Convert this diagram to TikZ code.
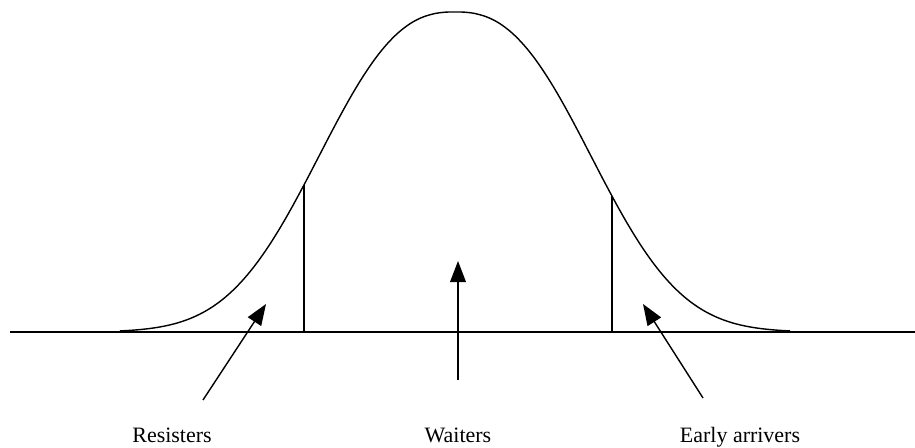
\documentclass[tikz,border=0pt]{standalone}
\usepackage{fontspec}
\setmainfont{Liberation Serif}
\usetikzlibrary{arrows.meta}
\newcommand{\bellh}[1]{332-320*exp(-(abs(#1-455)/167)^2.5)}% curve height at x=#1

\begin{document}
\begin{tikzpicture}[x=0.02cm,y=-0.02cm, line width=0.8pt,
  lbl/.style={font=\fontsize{12.5}{14}\selectfont, anchor=base},
  pointer/.style={-{Triangle[length=12pt,width=9pt]}, line width=0.8pt}]
  \useasboundingbox (0,0) rectangle (915,448);
  % axis and bell curve
  \coordinate (axl) at (10,332);
  \coordinate (axr) at (915,332);
  \draw (axl) -- (axr);
  \draw[smooth, samples=135, domain=120:790] plot (\x, {\bellh{\x}});
  % cut-off lines
  \coordinate (cl) at (304,{\bellh{304}}); \coordinate (cl0) at (304,332);
  \coordinate (cr) at (612,{\bellh{612}}); \coordinate (cr0) at (612,332);
  \draw (cl0) -- (cl);
  \draw (cr0) -- (cr);
  % labels
  \node[lbl] (resist) at (172,442) {Resisters};
  \node[lbl] (wait) at (458,442) {Waiters};
  \node[lbl] (early) at (740,442) {Early arrivers};
  % pointers
  \coordinate (resistTail) at (203,400); \coordinate (resistTip) at (266,304);
  \coordinate (waitTail) at (458,380);   \coordinate (waitTip) at (458,261);
  \coordinate (earlyTail) at (703,398);  \coordinate (earlyTip) at (643,304);
  \draw[pointer] (resistTail) -- (resistTip);
  \draw[pointer] (waitTail) -- (waitTip);
  \draw[pointer] (earlyTail) -- (earlyTip);
\end{tikzpicture}
\end{document}
